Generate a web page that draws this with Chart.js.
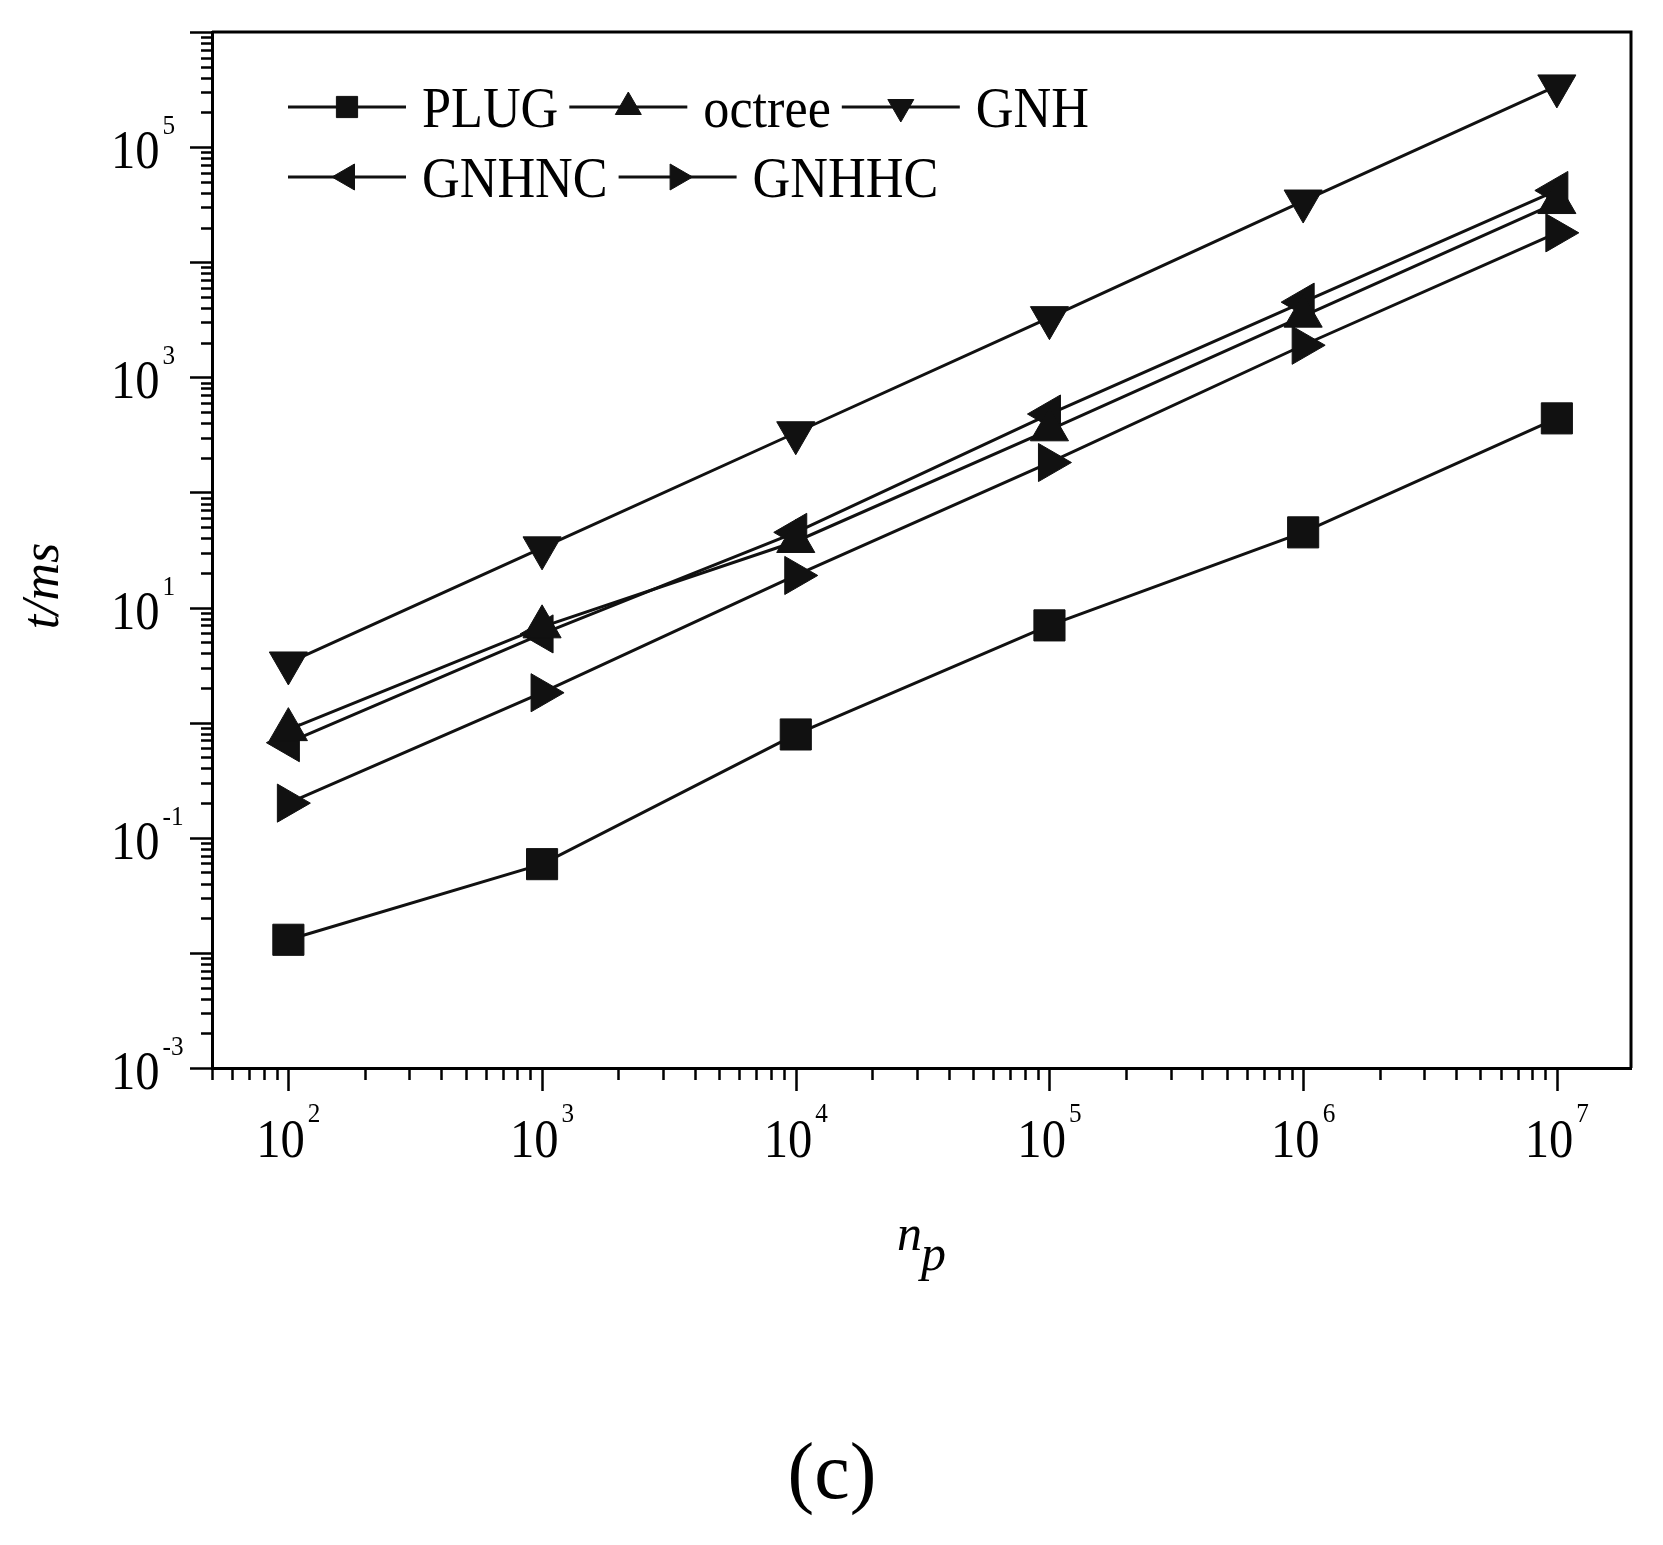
<!DOCTYPE html>
<html>
<head>
<meta charset="utf-8">
<script src="https://cdn.jsdelivr.net/npm/chart.js@4.4.1/dist/chart.umd.min.js"></script>
<style>
  html, body { margin: 0; padding: 0; background: #fff; }
  #wrap { width: 1663px; height: 1545px; }
</style>
</head>
<body>
<div id="wrap"><canvas id="timing" width="1663" height="1545"></canvas></div>
<script>
// values (t in ms against particle count n_p)
const particleCounts = [1e2, 1e3, 1e4, 1e5, 1e6, 1e7];
const plugTimes   = [0.013, 0.059, 0.79, 7.0, 45, 440];
const octreeTimes = [0.87, 6.8, 37.5, 350, 3400, 33000];
const gnhTimes    = [3.3, 33, 330, 3300, 34000, 340000];
const gnhncTimes  = [0.67, 5.9, 45, 480, 4500, 42000];
const gnhhcTimes  = [0.20, 1.82, 19, 182, 1900, 18000];

const xTickExps = [2, 3, 4, 5, 6, 7];
const yTickExps = [-3, -1, 1, 3, 5];
const legendRows = [[0, 1, 2], [3, 4]];

const ink = "#111";
const serif = '"Liberation Serif", "Times New Roman", serif';
const squeeze = 0.9;

function makeSet(label, values, pointStyle, rotation) {
  return {
    label: label,
    data: particleCounts.map((x, i) => ({ x: x, y: values[i] })),
    borderColor: ink,
    borderWidth: 3,
    pointStyle: pointStyle,
    pointRotation: rotation,
    pointRadius: 22,
    pointHoverRadius: 22,
    pointBackgroundColor: ink,
    pointBorderColor: ink,
    pointBorderWidth: 1,
    fill: false,
    tension: 0
  };
}

function squeezedText(ctx, text, x, y) {
  ctx.save();
  ctx.translate(x, y);
  ctx.scale(squeeze, 1);
  ctx.fillText(text, 0, 0);
  ctx.restore();
}

function textWidth(ctx, text) {
  return ctx.measureText(text).width * squeeze;
}

// "10" with a raised exponent
function drawPow(ctx, exp, left, baseline, supBaseline) {
  ctx.font = "54px " + serif;
  squeezedText(ctx, "10", left, baseline);
  const w = textWidth(ctx, "10");
  ctx.font = "28px " + serif;
  squeezedText(ctx, String(exp), left + w + 3, supBaseline);
}

function powWidth(ctx, exp) {
  ctx.font = "54px " + serif;
  const w = textWidth(ctx, "10");
  ctx.font = "28px " + serif;
  return w + 3 + textWidth(ctx, String(exp));
}

const axisDecor = {
  id: "axisDecor",
  afterDraw(chart) {
    const { ctx, chartArea: a } = chart;
    const xs = chart.scales.x;
    const ys = chart.scales.y;
    ctx.save();
    ctx.strokeStyle = "#000";
    ctx.fillStyle = "#000";

    // top and right frame
    ctx.lineWidth = 3;
    ctx.beginPath();
    ctx.moveTo(a.left, a.top);
    ctx.lineTo(a.right, a.top);
    ctx.lineTo(a.right, a.bottom);
    ctx.stroke();

    // major and minor ticks, pointing outward
    ctx.lineWidth = 2.5;
    ctx.beginPath();
    for (let e = -4; e <= 8; e++) {
      for (let m = 1; m <= 9; m++) {
        const v = m * Math.pow(10, e);
        if (v >= xs.min * 0.999 && v <= xs.max * 1.001) {
          const px = Math.round(xs.getPixelForValue(v)) + 0.5;
          ctx.moveTo(px, a.bottom);
          ctx.lineTo(px, a.bottom + (m === 1 ? 23 : 12));
        }
        if (v >= ys.min * 0.999 && v <= ys.max * 1.001) {
          const py = Math.round(ys.getPixelForValue(v)) + 0.5;
          ctx.moveTo(a.left, py);
          ctx.lineTo(a.left - (m === 1 ? 22 : 11), py);
        }
      }
    }
    ctx.stroke();

    // tick labels
    ctx.textAlign = "left";
    ctx.textBaseline = "alphabetic";
    xTickExps.forEach(e => {
      const px = xs.getPixelForValue(Math.pow(10, e));
      const w = powWidth(ctx, e);
      drawPow(ctx, e, px - w / 2, a.bottom + 89, a.bottom + 54);
    });
    yTickExps.forEach(e => {
      const py = ys.getPixelForValue(Math.pow(10, e));
      drawPow(ctx, e, 111, py + 21, py - 13);
    });

    // axis titles
    ctx.font = "italic 52px " + serif;
    ctx.save();
    ctx.translate(58, 586);
    ctx.rotate(-Math.PI / 2);
    ctx.textAlign = "center";
    ctx.fillText("t/ms", 0, 0);
    ctx.restore();

    ctx.font = "italic 50px " + serif;
    ctx.textAlign = "left";
    ctx.fillText("n", 897, 1250);
    ctx.fillText("p", 921, 1270);

    // panel tag
    ctx.font = "80px " + serif;
    ctx.textAlign = "center";
    ctx.fillText("(c)", 832, 1498);

    ctx.restore();
  },
  afterDatasetsDraw(chart) {
    const { ctx } = chart;
    const sets = chart.data.datasets;
    const rowY = [107, 177];
    ctx.save();
    ctx.font = "58px " + serif;
    ctx.textAlign = "left";
    ctx.textBaseline = "alphabetic";
    legendRows.forEach((row, r) => {
      let x0 = 288;
      const y = rowY[r];
      row.forEach(i => {
        const ds = sets[i];
        ctx.strokeStyle = ink;
        ctx.fillStyle = ink;
        ctx.lineWidth = 3;
        ctx.beginPath();
        ctx.moveTo(x0, y);
        ctx.lineTo(x0 + 118, y);
        ctx.stroke();
        ctx.lineWidth = 1;
        Chart.helpers.drawPoint(ctx, {
          pointStyle: ds.pointStyle,
          rotation: ds.pointRotation,
          radius: 15,
          borderWidth: 1
        }, x0 + 59, y);
        ctx.fillStyle = "#000";
        squeezedText(ctx, ds.label, x0 + 134, y + 20);
        x0 += 134 + textWidth(ctx, ds.label) + 11;
      });
    });
    ctx.restore();
  }
};

new Chart(document.getElementById("timing"), {
  type: "line",
  data: {
    datasets: [
      makeSet("PLUG", plugTimes, "rect", 0),
      makeSet("octree", octreeTimes, "triangle", 0),
      makeSet("GNH", gnhTimes, "triangle", 180),
      makeSet("GNHNC", gnhncTimes, "triangle", 270),
      makeSet("GNHHC", gnhhcTimes, "triangle", 90)
    ]
  },
  options: {
    responsive: false,
    animation: false,
    devicePixelRatio: 1,
    layout: { padding: { top: 32, right: 32, left: 0, bottom: 0 } },
    plugins: {
      legend: { display: false },
      tooltip: { enabled: false }
    },
    scales: {
      x: {
        type: "logarithmic",
        min: 50,
        max: 1.96e7,
        grid: { display: false },
        ticks: { display: false },
        border: { display: true, color: "#000", width: 3 },
        afterFit: s => { s.height = 477; }
      },
      y: {
        type: "logarithmic",
        min: 1e-3,
        max: 1e6,
        grid: { display: false },
        ticks: { display: false },
        border: { display: true, color: "#000", width: 3 },
        afterFit: s => { s.width = 212; }
      }
    }
  },
  plugins: [axisDecor]
});
</script>
</body>
</html>
